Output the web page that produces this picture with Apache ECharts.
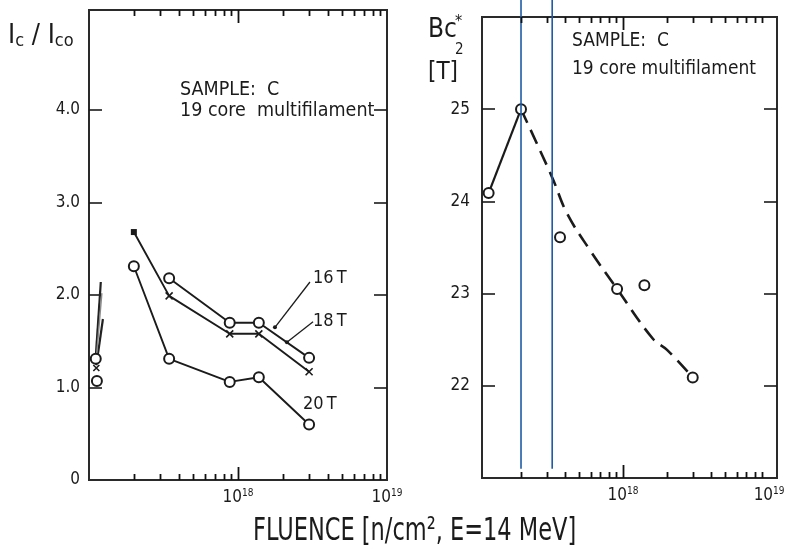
<!DOCTYPE html>
<html>
<head>
<meta charset="utf-8">
<script src="https://cdn.jsdelivr.net/npm/echarts@6/dist/echarts.min.js"></script>
<style>
  html, body { margin: 0; padding: 0; background: #ffffff; }
  #chart { width: 788px; height: 556px; }
</style>
</head>
<body>
<div id="chart"></div>
<script>
// Sample C, 19 core multifilament: critical current ratio and upper critical field
// after 14 MeV neutron irradiation.

// Left panel: Ic/Ico for three applied fields
const fluence = [2.0e17, 3.45e17, 8.8e17, 1.38e18, 3.0e18];
const ic16T = [null, 2.18, 1.70, 1.70, 1.32];
const ic18T = [2.68, 1.99, 1.58, 1.58, 1.17];
const ic20T = [2.31, 1.31, 1.06, 1.11, 0.60];

// Unirradiated reference points sitting on the left edge
const refFluence = [1.11e17, 1.12e17, 1.13e17];
const refValues = [1.31, 1.21, 1.07];

// Pen strokes rising from the reference points
const streakA = [[1.11e17, 1.33], [1.20e17, 2.14]];
const streakB = [[1.12e17, 1.24], [1.24e17, 1.74]];
const streakC = [[1.115e17, 1.28], [1.22e17, 2.02]];

// Leader lines from the 16 T / 18 T captions to their curves
const lead16T = [[1.77e18, 1.65], [3.04e18, 2.14]];
const lead18T = [[2.13e18, 1.49], [3.19e18, 1.71]];

// Right panel: Bc2* in tesla
const bcFluence = [1.2e17, 2.0e17, 3.7e17, 9.1e17, 1.4e18, 3.0e18];
const bc2 = [24.09, 25.0, 23.61, 23.05, 23.09, 22.09];

// Dashed trend drawn through the irradiated points
const fitFluence = [2.0e17, 3.27e17, 4.13e17, 5.94e17, 9.1e17, 1.6e18, 2.0e18, 3.0e18];
const fitBc2 = [25.0, 24.26, 23.87, 23.47, 23.05, 22.51, 22.39, 22.09];

// Vertical guide lines
const guideFluence = [2.0e17, 3.27e17];

// Axis ticks
const icTicks = [1, 2, 3, 4];
const icLabels = [0, 1, 2, 3, 4];
const bcTicks = [22, 23, 24, 25];
const minorTicks = [2e17, 3e17, 4e17, 5e17, 6e17, 7e17, 8e17, 9e17,
                    2e18, 3e18, 4e18, 5e18, 6e18, 7e18, 8e18, 9e18];
const majorTicks = [1e18];

const FONT = "'DejaVu Sans Condensed', 'Liberation Sans Narrow', 'DejaVu Sans', sans-serif";
const INK = '#1b1b1b';

const pairs = (xs, ys) => xs.map((x, i) => [x, ys[i]]).filter(p => p[1] != null);

const IC_MIN = 0, IC_MAX = 5.08;
const BC_MIN = 21, BC_MAX = 26;

function powerLabel(v) {
  const lg = Math.log10(v);
  const e = Math.round(lg);
  if (Math.abs(lg - e) > 0.01 || e < 18) return '';
  return '{b|10}{s|' + e + '}';
}

const xLabel = {
  formatter: powerLabel,
  margin: 8,
  color: INK,
  rich: {
    b: { fontSize: 17, lineHeight: 20, fontFamily: FONT, color: INK },
    s: { fontSize: 10, lineHeight: 11, verticalAlign: 'top', fontFamily: FONT, color: INK }
  }
};

function xAxisFor(gridIndex, min, max) {
  return {
    type: 'log', logBase: 10, gridIndex, min, max,
    axisLine: { show: false }, axisTick: { show: false }, splitLine: { show: false },
    axisLabel: xLabel
  };
}

function yAxisFor(gridIndex, min, max, ticks, labels, fmt, position, margin) {
  return {
    type: 'value', gridIndex, min, max, interval: 1, position,
    axisLine: { show: false }, splitLine: { show: false },
    axisTick: { show: true, inside: true, length: 13, customValues: ticks,
                lineStyle: { color: INK, width: 1.6 } },
    axisLabel: labels ? { customValues: labels, formatter: fmt, margin,
                          color: INK, fontSize: 17, fontFamily: FONT } : { show: false }
  };
}

// Log-axis ticks on the bottom and top frame edges: [value, edge, length]
function edgeTicks(yMin, yMax) {
  const out = [];
  minorTicks.forEach(v => { out.push([v, yMin, -6]); out.push([v, yMax, 6]); });
  majorTicks.forEach(v => { out.push([v, yMin, -13]); out.push([v, yMax, 13]); });
  return out;
}
function tickItem(params, api) {
  const p = api.coord([api.value(0), api.value(1)]);
  const len = api.value(2);
  const x = Math.round(p[0]) + 0.5;
  return {
    type: 'line',
    shape: { x1: x, y1: p[1], x2: x, y2: p[1] + len },
    style: { stroke: '#111111', lineWidth: 1.8 }
  };
}

const crossSymbol = 'path://M0,0L10,10M10,0L0,10';
const lineStyle = { color: INK, width: 1.9 };

function guideItem(params, api) {
  const b = api.coord([api.value(0), BC_MIN + 0.1]);
  return {
    type: 'line',
    shape: { x1: b[0], y1: b[1], x2: b[0], y2: 0 },
    style: { stroke: '#1f5aa6', lineWidth: 1.6 }
  };
}

const option = {
  backgroundColor: '#ffffff',
  animation: false,
  grid: [
    { left: 89, top: 10, width: 298, height: 470, show: true,
      borderColor: '#2a2a2a', borderWidth: 2, backgroundColor: 'transparent' },
    { left: 482, top: 17, width: 295, height: 461, show: true,
      borderColor: '#2a2a2a', borderWidth: 2, backgroundColor: 'transparent' }
  ],
  xAxis: [
    xAxisFor(0, 1e17, 1e19),
    xAxisFor(1, 1.081e17, 1.133e19)
  ],
  yAxis: [
    yAxisFor(0, IC_MIN, IC_MAX, icTicks, icLabels, v => v === 0 ? '0' : v.toFixed(1), 'left', 9),
    yAxisFor(0, IC_MIN, IC_MAX, icTicks, null, null, 'right', 0),
    yAxisFor(1, BC_MIN, BC_MAX, bcTicks, bcTicks, v => String(v), 'left', 12),
    yAxisFor(1, BC_MIN, BC_MAX, bcTicks, null, null, 'right', 0)
  ],
  series: [
    { type: 'custom', xAxisIndex: 0, yAxisIndex: 0, silent: true, clip: false, z: 10,
      renderItem: tickItem, data: edgeTicks(IC_MIN, IC_MAX) },
    { type: 'custom', xAxisIndex: 1, yAxisIndex: 2, silent: true, clip: false, z: 10,
      renderItem: tickItem, data: edgeTicks(BC_MIN, BC_MAX) },

    // streaks near the left edge
    { type: 'line', xAxisIndex: 0, yAxisIndex: 0, data: streakA, symbol: 'none',
      lineStyle: { color: '#222', width: 2.2 } },
    { type: 'line', xAxisIndex: 0, yAxisIndex: 0, data: streakB, symbol: 'none',
      lineStyle: { color: '#222', width: 2.2 } },
    { type: 'line', xAxisIndex: 0, yAxisIndex: 0, data: streakC, symbol: 'none',
      lineStyle: { color: '#8a8a8a', width: 1.4 } },

    // unirradiated reference points
    { type: 'scatter', xAxisIndex: 0, yAxisIndex: 0, z: 5,
      data: [
        { value: [refFluence[0], refValues[0]], symbol: 'emptyCircle', symbolSize: 10 },
        { value: [refFluence[1], refValues[1]], symbol: crossSymbol, symbolSize: 6 },
        { value: [refFluence[2], refValues[2]], symbol: 'emptyCircle', symbolSize: 10 }
      ],
      itemStyle: { color: INK, borderColor: INK, borderWidth: 1.6, opacity: 1 } },

    // 16 T
    { name: '16T', type: 'line', xAxisIndex: 0, yAxisIndex: 0,
      data: pairs(fluence, ic16T), symbol: 'emptyCircle', symbolSize: 10,
      lineStyle, itemStyle: { color: INK, borderWidth: 1.6 } },
    // 18 T
    { name: '18T', type: 'line', xAxisIndex: 0, yAxisIndex: 0,
      data: pairs(fluence, ic18T).map((p, i) => i === 0
        ? { value: p, symbol: 'rect', symbolSize: 6, itemStyle: { color: INK, borderWidth: 0 } }
        : { value: p }),
      symbol: crossSymbol, symbolSize: 7,
      lineStyle, itemStyle: { color: INK, borderColor: INK, borderWidth: 1.6 } },
    // 20 T
    { name: '20T', type: 'line', xAxisIndex: 0, yAxisIndex: 0,
      data: pairs(fluence, ic20T), symbol: 'emptyCircle', symbolSize: 10,
      lineStyle, itemStyle: { color: INK, borderWidth: 1.6 } },

    // caption leaders
    { type: 'line', xAxisIndex: 0, yAxisIndex: 0,
      data: [{ value: lead16T[0], symbol: 'circle', symbolSize: 4 }, { value: lead16T[1], symbol: 'none' }],
      lineStyle: { color: INK, width: 1.3 }, itemStyle: { color: INK } },
    { type: 'line', xAxisIndex: 0, yAxisIndex: 0,
      data: [{ value: lead18T[0], symbol: 'circle', symbolSize: 4 }, { value: lead18T[1], symbol: 'none' }],
      lineStyle: { color: INK, width: 1.3 }, itemStyle: { color: INK } },

    // right panel: guides
    { type: 'custom', xAxisIndex: 1, yAxisIndex: 2, silent: true, clip: false, z: 8,
      renderItem: guideItem, data: guideFluence.map(v => [v, BC_MIN]) },
    // solid rise to the peak
    { type: 'line', xAxisIndex: 1, yAxisIndex: 2, symbol: 'none',
      data: pairs(bcFluence.slice(0, 2), bc2.slice(0, 2)),
      lineStyle: { color: INK, width: 2.2 } },
    // dashed trend
    { type: 'line', xAxisIndex: 1, yAxisIndex: 2, symbol: 'none', smooth: 0.4,
      data: pairs(fitFluence, fitBc2),
      lineStyle: { color: INK, width: 2.6, type: [15, 8] } },
    // measured points
    { type: 'scatter', xAxisIndex: 1, yAxisIndex: 2, z: 5,
      data: pairs(bcFluence, bc2), symbol: 'emptyCircle', symbolSize: 10,
      itemStyle: { color: INK, borderColor: INK, borderWidth: 1.6, opacity: 1 } }
  ],
  graphic: [
    // axis titles
    { type: 'text', left: 8, top: 22, style: {
        text: '{a|I}{s|c}{a| / }{a|I}{s|co}', fill: INK,
        rich: {
          a: { fontSize: 27, lineHeight: 30, fontFamily: FONT, fill: INK },
          s: { fontSize: 18, lineHeight: 24, verticalAlign: 'bottom', fontFamily: FONT, fill: INK }
        } } },
    { type: 'text', left: 428, top: 17, style: { text: 'Bc', fontSize: 26, fontFamily: FONT, fill: INK } },
    { type: 'text', left: 455, top: 43, style: { text: '2', fontSize: 15, fontFamily: FONT, fill: INK } },
    { type: 'text', left: 455, top: 14, style: { text: '*', fontSize: 16, fontFamily: FONT, fill: INK } },
    { type: 'text', left: 428, top: 61, style: { text: '[T]', fontSize: 24, fontFamily: FONT, fill: INK } },
    { type: 'text', x: 253, y: 515, scaleY: 1.3, style: {
        text: 'FLUENCE [n/cm², E=14 MeV]', fontSize: 25, fontFamily: FONT, fill: INK } },

    // panel captions
    { type: 'text', left: 180, top: 80, style: { text: 'SAMPLE:  C', fontSize: 19.5, fontFamily: FONT, fill: INK } },
    { type: 'text', left: 180, top: 101, style: { text: '19 core  multifilament', fontSize: 19.5, fontFamily: FONT, fill: INK } },
    { type: 'text', left: 572, top: 32, style: { text: 'SAMPLE:  C', fontSize: 19, fontFamily: FONT, fill: INK } },
    { type: 'text', left: 572, top: 60, style: { text: '19 core multifilament', fontSize: 19, fontFamily: FONT, fill: INK } },

    // field captions
    { type: 'text', left: 313, top: 269, style: { text: '16\u2009T', fontSize: 18, fontFamily: FONT, fill: INK } },
    { type: 'text', left: 313, top: 312, style: { text: '18\u2009T', fontSize: 18, fontFamily: FONT, fill: INK } },
    { type: 'text', left: 303, top: 395, style: { text: '20\u2009T', fontSize: 18, fontFamily: FONT, fill: INK } }
  ]
};

const chart = echarts.init(document.getElementById('chart'), null, { renderer: 'canvas' });
chart.setOption(option);
</script>
</body>
</html>
